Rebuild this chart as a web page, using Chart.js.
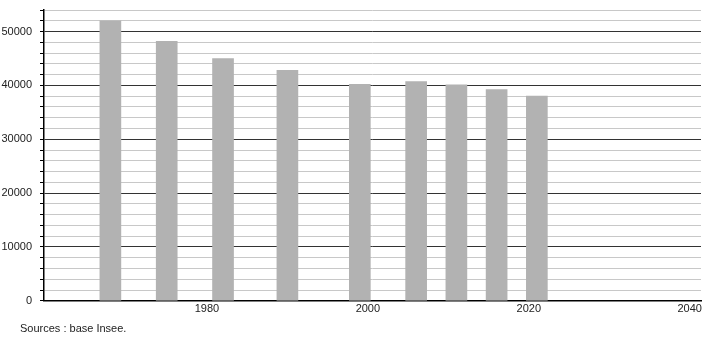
<!DOCTYPE html>
<html>
<head>
<meta charset="utf-8">
<script src="https://cdn.jsdelivr.net/npm/chart.js@4"></script>
<style>
  html, body { margin: 0; padding: 0; background: #fff; }
  #wrap { width: 710px; height: 340px; position: relative; }
</style>
</head>
<body>
<div id="wrap"><canvas id="chart"></canvas></div>
<script>
    // recensements (Insee)
    const annees = [1968, 1975, 1982, 1990, 1999, 2006, 2011, 2016, 2021];
    const population = [52000, 48200, 45000, 42800, 40200, 40700, 40100, 39200, 38000];
    const ticksX = [1980, 2000, 2020, 2040];
    const source = 'Sources : base Insee.';

    const pontos = annees.map((a, i) => ({ x: a, y: population[i] }));

    const textoFonte = {
        id: 'textoFonte',
        afterDraw(chart) {
            const ctx = chart.ctx;
            ctx.save();
            ctx.font = '11px "Liberation Sans", Arial, sans-serif';
            ctx.fillStyle = '#222';
            ctx.textBaseline = 'middle';
            ctx.fillText(source, 20, 329);
            ctx.restore();
        }
    };

    const config = {
        type: 'bar',
        data: {
            datasets: [{
                data: pontos,
                backgroundColor: '#b2b2b2',
                borderWidth: 0,
                barThickness: 21
            }]
        },
        options: {
            responsive: true,
            maintainAspectRatio: false,
            animation: false,
            layout: { padding: { left: 0, right: 9, top: 10, bottom: 22 } },
            plugins: {
                legend: { display: false },
                tooltip: { enabled: false }
            },
            scales: {
                x: {
                    type: 'linear',
                    offset: false,
                    min: 1959.75,
                    max: 2041.4,
                    afterBuildTicks: axis => {
                        axis.ticks = ticksX.map(v => ({ value: v }));
                    },
                    grid: { display: false, drawTicks: false, offset: false },
                    border: { display: true, color: '#000', width: 1.5 },
                    ticks: {
                        padding: 2,
                        color: '#222',
                        autoSkip: false,
                        font: { family: '"Liberation Sans", Arial, sans-serif', size: 11 },
                        maxRotation: 0,
                        callback: v => String(v)
                    }
                },
                y: {
                    min: 0,
                    max: 54000,
                    afterFit: s => {
                        s.width = 44;
                        s.paddingTop = 0;
                        s.paddingBottom = 0;
                    },
                    ticks: {
                        stepSize: 2000,
                        autoSkip: false,
                        padding: 8,
                        color: '#222',
                        font: { family: '"Liberation Sans", Arial, sans-serif', size: 11 },
                        callback: v => (v % 10000 === 0 ? String(v) : '')
                    },
                    grid: {
                        drawTicks: true,
                        tickLength: 4,
                        tickColor: '#000',
                        lineWidth: 1,
                        color: c => (c.tick && c.tick.value % 10000 === 0 ? '#333' : '#c8c8c8')
                    },
                    border: { display: true, color: '#000', width: 1.5 }
                }
            }
        },
        plugins: [textoFonte]
    };

    new Chart(document.getElementById('chart'), config);
</script>
</body>
</html>
